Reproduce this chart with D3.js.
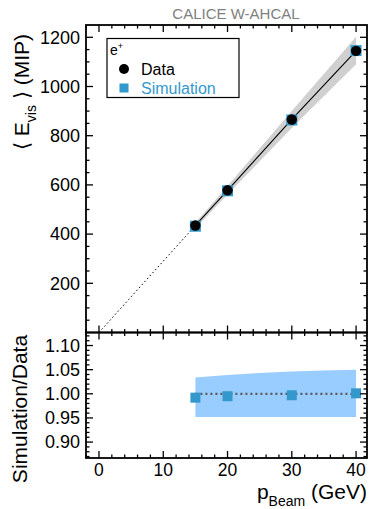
<!DOCTYPE html>
<html><head><meta charset="utf-8">
<script src="https://cdn.jsdelivr.net/npm/d3@7"></script>
<style>body{margin:0;background:#fff}svg{display:block;font-family:"Liberation Sans",Arial,sans-serif}</style>
</head><body><svg id="c" width="370" height="509"></svg>
<script>
const beam = [15, 20, 30, 40];
const dataE = [435, 578, 866, 1145];
const simE = [432, 576, 864, 1146];
const bandLoFrac = [0.975, 0.97, 0.96, 0.952];
const bandHiFrac = [1.025, 1.03, 1.04, 1.05];
const ratio = [0.992, 0.995, 0.997, 1.001];
const ratioBandLo = [0.952, 0.952, 0.952, 0.952];
const ratioBandHi = [1.034, 1.039, 1.046, 1.050];
const xTicks = [0, 10, 20, 30, 40];
const yTopTicks = [200, 400, 600, 800, 1000, 1200];
const yBotTicks = [0.90, 0.95, 1.00, 1.05, 1.10];

const svg = d3.select("#c");
const L = 86, R = 367, T = 25, M = 332.5, B = 458;
const x = d3.scaleLinear().domain([-2.02, 41.7]).range([L, R]);
const yT = d3.scaleLinear().domain([0, 1250]).range([M, T]);
const yB = d3.scaleLinear().domain([0.867, 1.127]).range([B, M]);

// title
svg.append("text").attr("x", 236).attr("y", 19).attr("text-anchor", "middle")
  .attr("font-size", 15).attr("fill", "#808080").text("CALICE W-AHCAL");

// ---- top panel
const gT = svg.append("g");
const bandArea = d3.area().x((d,i)=>x(beam[i])).y0((d,i)=>yT(dataE[i]*bandLoFrac[i])).y1((d,i)=>yT(dataE[i]*bandHiFrac[i]));
gT.append("path").datum(beam).attr("d", bandArea).attr("fill", "#d0d0d0");
gT.append("line").attr("x1", x(0)).attr("y1", yT(0)).attr("x2", x(beam[0])).attr("y2", yT(dataE[0]))
  .attr("stroke", "#000").attr("stroke-width", 1).attr("stroke-dasharray", "1.5,2.5");
gT.append("path").datum(beam).attr("d", d3.line().x((d,i)=>x(beam[i])).y((d,i)=>yT(dataE[i])))
  .attr("fill", "none").attr("stroke", "#000").attr("stroke-width", 1.1);
gT.selectAll("rect.sim").data(beam).enter().append("rect")
  .attr("x", (d,i)=>x(d)-5.5).attr("y", (d,i)=>yT(simE[i])-5.5).attr("width", 11).attr("height", 11).attr("fill", "#3399cc");
gT.selectAll("circle").data(beam).enter().append("circle")
  .attr("cx", d=>x(d)).attr("cy", (d,i)=>yT(dataE[i])).attr("r", 5.2).attr("fill", "#000");

// ---- bottom panel
const gB = svg.append("g");
const rArea = d3.area().x((d,i)=>x(beam[i])).y0((d,i)=>yB(ratioBandLo[i])).y1((d,i)=>yB(ratioBandHi[i])).curve(d3.curveMonotoneX);
gB.append("path").datum(beam).attr("d", rArea).attr("fill", "#99ccff");
gB.append("line").attr("x1", x(15)).attr("x2", x(40)).attr("y1", yB(1)).attr("y2", yB(1))
  .attr("stroke", "#5a5a5a").attr("stroke-width", 2.2).attr("stroke-dasharray", "2,3");
gB.selectAll("rect").data(beam).enter().append("rect")
  .attr("x", d=>x(d)-5).attr("y", (d,i)=>yB(ratio[i])-5).attr("width", 10).attr("height", 10).attr("fill", "#3399cc");

// ---- frames and ticks
function frame(y0, y1){
  svg.append("rect").attr("x", L).attr("y", y0).attr("width", R-L).attr("height", y1-y0)
    .attr("fill", "none").attr("stroke", "#000").attr("stroke-width", 1.8);
}
frame(T, M); frame(M, B);

function xTickMarks(yLine, dir){
  const minors = d3.range(-2, 41.7, 2);
  minors.forEach(v=>{
    const major = v % 10 === 0;
    const len = major ? 7 : 3.5;
    svg.append("line").attr("x1", x(v)).attr("x2", x(v)).attr("y1", yLine).attr("y2", yLine + dir*len)
      .attr("stroke", "#000").attr("stroke-width", 1.3);
  });
}
xTickMarks(M, -1); xTickMarks(T, 1); xTickMarks(M, 1); xTickMarks(B, -1);

function yTickMarks(scale, minStep, majors, lo, hi){
  const vals = d3.range(0, 200).map(i=>+(lo + i*minStep).toFixed(4)).filter(v=>v<=hi);
  vals.forEach(v=>{
    const yy = scale(v);
    if (yy < scale.range()[1]+0.5 || yy > scale.range()[0]-0.5) return;
    const major = majors.some(m=>Math.abs(m-v)<1e-6);
    const len = major ? 7 : 3.5;
    svg.append("line").attr("x1", L).attr("x2", L+len).attr("y1", yy).attr("y2", yy).attr("stroke", "#000").attr("stroke-width", 1.3);
    svg.append("line").attr("x1", R).attr("x2", R-len).attr("y1", yy).attr("y2", yy).attr("stroke", "#000").attr("stroke-width", 1.3);
  });
}
yTickMarks(yT, 50, yTopTicks, 0, 1250);
yTickMarks(yB, 0.01, yBotTicks, 0.87, 1.13);

// tick labels
svg.selectAll("text.yt").data(yTopTicks).enter().append("text")
  .attr("x", 80).attr("y", d=>yT(d)+6.3).attr("text-anchor", "end").attr("font-size", 18).text(d=>d);
svg.selectAll("text.yb").data(yBotTicks).enter().append("text")
  .attr("x", 80).attr("y", d=>yB(d)+6.3).attr("text-anchor", "end").attr("font-size", 18).text(d=>d.toFixed(2));
svg.selectAll("text.xb").data(xTicks).enter().append("text")
  .attr("x", d=>x(d)).attr("y", 476).attr("text-anchor", "middle").attr("font-size", 17.5).text(d=>d);

// axis titles
const xl = svg.append("text").attr("x", 367).attr("y", 499).attr("text-anchor", "end").attr("font-size", 21);
xl.append("tspan").text("p");
xl.append("tspan").attr("font-size", 14).attr("dy", 7).text("Beam");
xl.append("tspan").attr("dy", -7).text(" (GeV)");

const yl = svg.append("text").attr("transform", "translate(29,92) rotate(-90)").attr("text-anchor", "middle").attr("font-size", 21);
yl.append("tspan").text("\u27E8 E");
yl.append("tspan").attr("font-size", 14).attr("dy", 7).text("vis");
yl.append("tspan").attr("dy", -7).text(" \u27E9 (MIP)");

svg.append("text").attr("transform", "translate(27,409) rotate(-90)").attr("text-anchor", "middle")
  .attr("font-size", 21).text("Simulation/Data");

// legend
svg.append("rect").attr("x", 107).attr("y", 38.5).attr("width", 132).attr("height", 59)
  .attr("fill", "#fff").attr("stroke", "#000").attr("stroke-width", 1.2);
const ep = svg.append("text").attr("x", 110).attr("y", 55).attr("font-size", 14);
ep.append("tspan").text("e");
ep.append("tspan").attr("font-size", 9).attr("dy", -6).text("+");
svg.append("circle").attr("cx", 124).attr("cy", 69).attr("r", 5).attr("fill", "#000");
svg.append("text").attr("x", 141).attr("y", 75).attr("font-size", 16).text("Data");
svg.append("rect").attr("x", 119.5).attr("y", 83.5).attr("width", 9).attr("height", 9).attr("fill", "#3399cc");
svg.append("text").attr("x", 141).attr("y", 94).attr("font-size", 16).attr("fill", "#3399cc").text("Simulation");
</script></body></html>
